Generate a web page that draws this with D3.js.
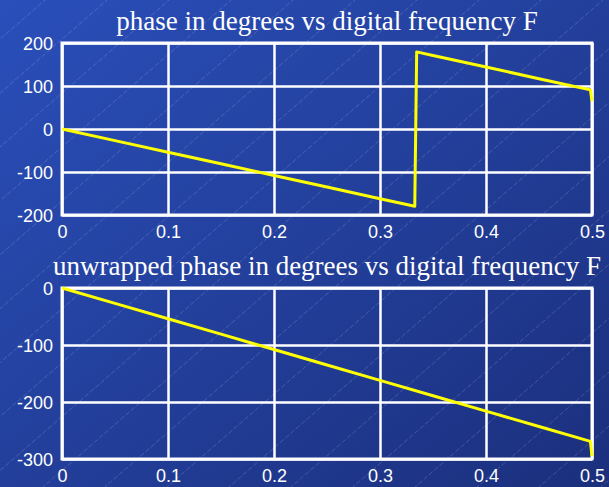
<!DOCTYPE html>
<html>
<head>
<meta charset="utf-8">
<script src="https://cdn.jsdelivr.net/npm/d3@7"></script>
<style>
  html, body { margin: 0; padding: 0; background: #1f3a96; }
  svg { display: block; }
</style>
</head>
<body>
<svg id="chart" width="609" height="487"></svg>
<script>
// Digital frequency samples and phase readings (degrees)
const freqWrapped = [0, 0.05, 0.1, 0.15, 0.2, 0.25, 0.3, 0.3328, 0.3346, 0.35, 0.4, 0.45, 0.4985, 0.5];
const phaseWrapped = [0, -27, -54, -81, -108, -135, -162, -179.7, 179.3, 171, 144, 117, 91, 65];

const freqUnwrapped = [0, 0.05, 0.1, 0.15, 0.2, 0.25, 0.3, 0.35, 0.4, 0.45, 0.4985, 0.5];
const phaseUnwrapped = [0, -27, -54, -81, -108, -135, -162, -189, -216, -243, -269, -295];

const xTicks = [0, 0.1, 0.2, 0.3, 0.4, 0.5];
const yTicksTop = [-200, -100, 0, 100, 200];
const yTicksBottom = [-300, -200, -100, 0];

const titleTop = "phase in degrees vs digital frequency F";
const titleBottom = "unwrapped phase in degrees vs digital frequency F";

const W = 609, H = 487;
const svg = d3.select("#chart");
const defs = svg.append("defs");

// Slide background: blue gradient with faint diagonal hatching
const grad = defs.append("linearGradient")
  .attr("id", "bg").attr("x1", "0").attr("y1", "0").attr("x2", "1").attr("y2", "1");
grad.append("stop").attr("offset", "0").attr("stop-color", "#2a4fba");
grad.append("stop").attr("offset", "1").attr("stop-color", "#1b2f7c");
svg.append("rect").attr("width", W).attr("height", H).attr("fill", "url(#bg)");

const hatch = svg.append("g").attr("stroke", "#ffffff").attr("stroke-opacity", 0.28)
  .attr("stroke-width", 0.6).attr("stroke-dasharray", "5,2");
for (let c = -600; c < 1200; c += 62) {
  hatch.append("line")
    .attr("x1", c).attr("y1", H + 20)
    .attr("x2", c + (H + 40) * 1.15).attr("y2", -20);
}

const left = 62, right = 592;
const x = d3.scaleLinear().domain([0, 0.5]).range([left, right]);
const fmtY = d => String(d);           // plain hyphen for negatives
const fmtX = d => String(d);

function panel(top, bottom, yDomain, yTicks, fx, fy, title, titleY) {
  const y = d3.scaleLinear().domain(yDomain).range([bottom, top]);
  const g = svg.append("g");

  // horizontal grid + y tick labels
  const ya = g.append("g").attr("transform", `translate(${left},0)`)
    .call(d3.axisLeft(y).tickValues(yTicks).tickSize(-(right - left)).tickPadding(9).tickFormat(fmtY));
  ya.select(".domain").remove();
  ya.selectAll("line").attr("stroke", "#ffffff").attr("stroke-width", 2.5);
  ya.selectAll("text").attr("fill", "#ffffff").attr("font-family", "Liberation Sans, Arial, sans-serif")
    .attr("font-size", 18).attr("dy", "0.35em");

  // vertical grid + x tick labels
  const xa = g.append("g").attr("transform", `translate(0,${bottom})`)
    .call(d3.axisBottom(x).tickValues(xTicks).tickSize(-(bottom - top)).tickPadding(10).tickFormat(fmtX));
  xa.select(".domain").remove();
  xa.selectAll("line").attr("stroke", "#ffffff").attr("stroke-width", 2.5);
  xa.selectAll("text").attr("fill", "#ffffff").attr("font-family", "Liberation Sans, Arial, sans-serif")
    .attr("font-size", 18).attr("dy", "0.71em");

  // axes box
  g.append("rect").attr("x", left).attr("y", top).attr("width", right - left).attr("height", bottom - top)
    .attr("fill", "none").attr("stroke", "#ffffff").attr("stroke-width", 3);

  // phase curve
  const pts = fx.map((f, i) => [f, fy[i]]);
  g.append("path").datum(pts)
    .attr("d", d3.line().x(d => x(d[0])).y(d => y(d[1])))
    .attr("fill", "none").attr("stroke", "#ffff00").attr("stroke-width", 3).attr("stroke-linejoin", "round");

  // title
  g.append("text").attr("x", (left + right) / 2).attr("y", titleY).attr("text-anchor", "middle")
    .attr("fill", "#ffffff").attr("font-family", "Liberation Serif, Times New Roman, serif")
    .attr("font-size", 27).text(title);
}

panel(43, 215, [-200, 200], yTicksTop, freqWrapped, phaseWrapped, titleTop, 30);
panel(288, 459, [-300, 0], yTicksBottom, freqUnwrapped, phaseUnwrapped, titleBottom, 275);
</script>
</body>
</html>
